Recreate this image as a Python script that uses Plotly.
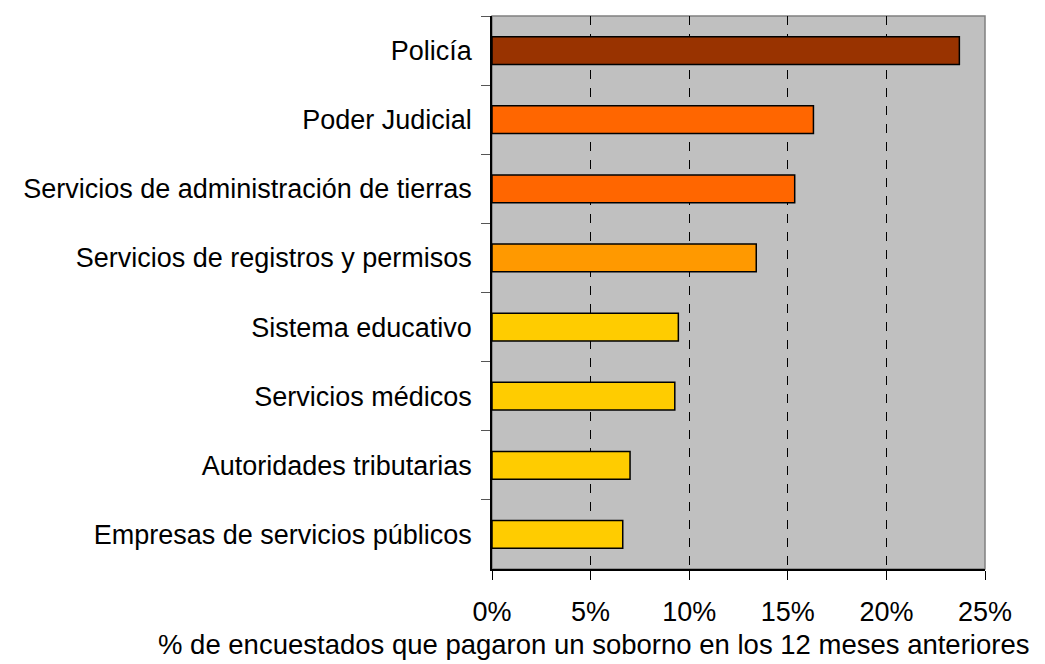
import plotly.graph_objects as go

categorias = ['Policía', 'Poder Judicial', 'Servicios de administración de tierras',
              'Servicios de registros y permisos', 'Sistema educativo', 'Servicios médicos',
              'Autoridades tributarias', 'Empresas de servicios públicos']
valores = [23.7, 16.3, 15.35, 13.4, 9.45, 9.27, 7.0, 6.63]
colores = ['#993300', '#FF6600', '#FF6600', '#FF9900', '#FFCC00', '#FFCC00', '#FFCC00', '#FFCC00']
ticks_x = [0, 5, 10, 15, 20, 25]
tick_labels = ['0%', '5%', '10%', '15%', '20%', '25%']

fig = go.Figure(go.Bar(x=valores, y=categorias, orientation='h',
                       marker=dict(color=colores, line=dict(color='#000000', width=1.5)),
                       width=0.4))

# la página html tiene 8px de margen en body
fig.update_layout(
    width=1037, height=656,
    margin=dict(l=484, r=60, t=8, b=95),
    paper_bgcolor='white', plot_bgcolor='#C0C0C0',
    font=dict(family='Liberation Sans, Arial', size=27, color='black'),
    showlegend=False,
    annotations=[dict(text='% de encuestados que pagaron un soborno en los 12 meses anteriores',
                      xref='paper', yref='paper', x=0.205, y=-0.137, showarrow=False,
                      xanchor='center', yanchor='middle', font=dict(size=27.5))],
)
fig.update_xaxes(range=[0, 25], tickvals=ticks_x, ticktext=tick_labels,
                 showgrid=True, gridcolor='black', griddash='dash', gridwidth=1,
                 showline=True, linecolor='black', linewidth=1.5,
                 ticks='outside', ticklen=9, tickcolor='black', ticklabelstandoff=9,
                 zeroline=False, fixedrange=True)
fig.update_yaxes(autorange='reversed', tickson='boundaries',
                 showline=True, linecolor='black', linewidth=1.5,
                 ticks='outside', ticklen=9, tickcolor='#555555', ticklabelstandoff=13,
                 showgrid=False, fixedrange=True)
# borde gris del área de trazado
fig.add_shape(type='rect', xref='paper', yref='paper', x0=0, x1=1, y0=0, y1=1,
              line=dict(color='#808080', width=1.5), layer='below')

fig.write_html('out.html')
